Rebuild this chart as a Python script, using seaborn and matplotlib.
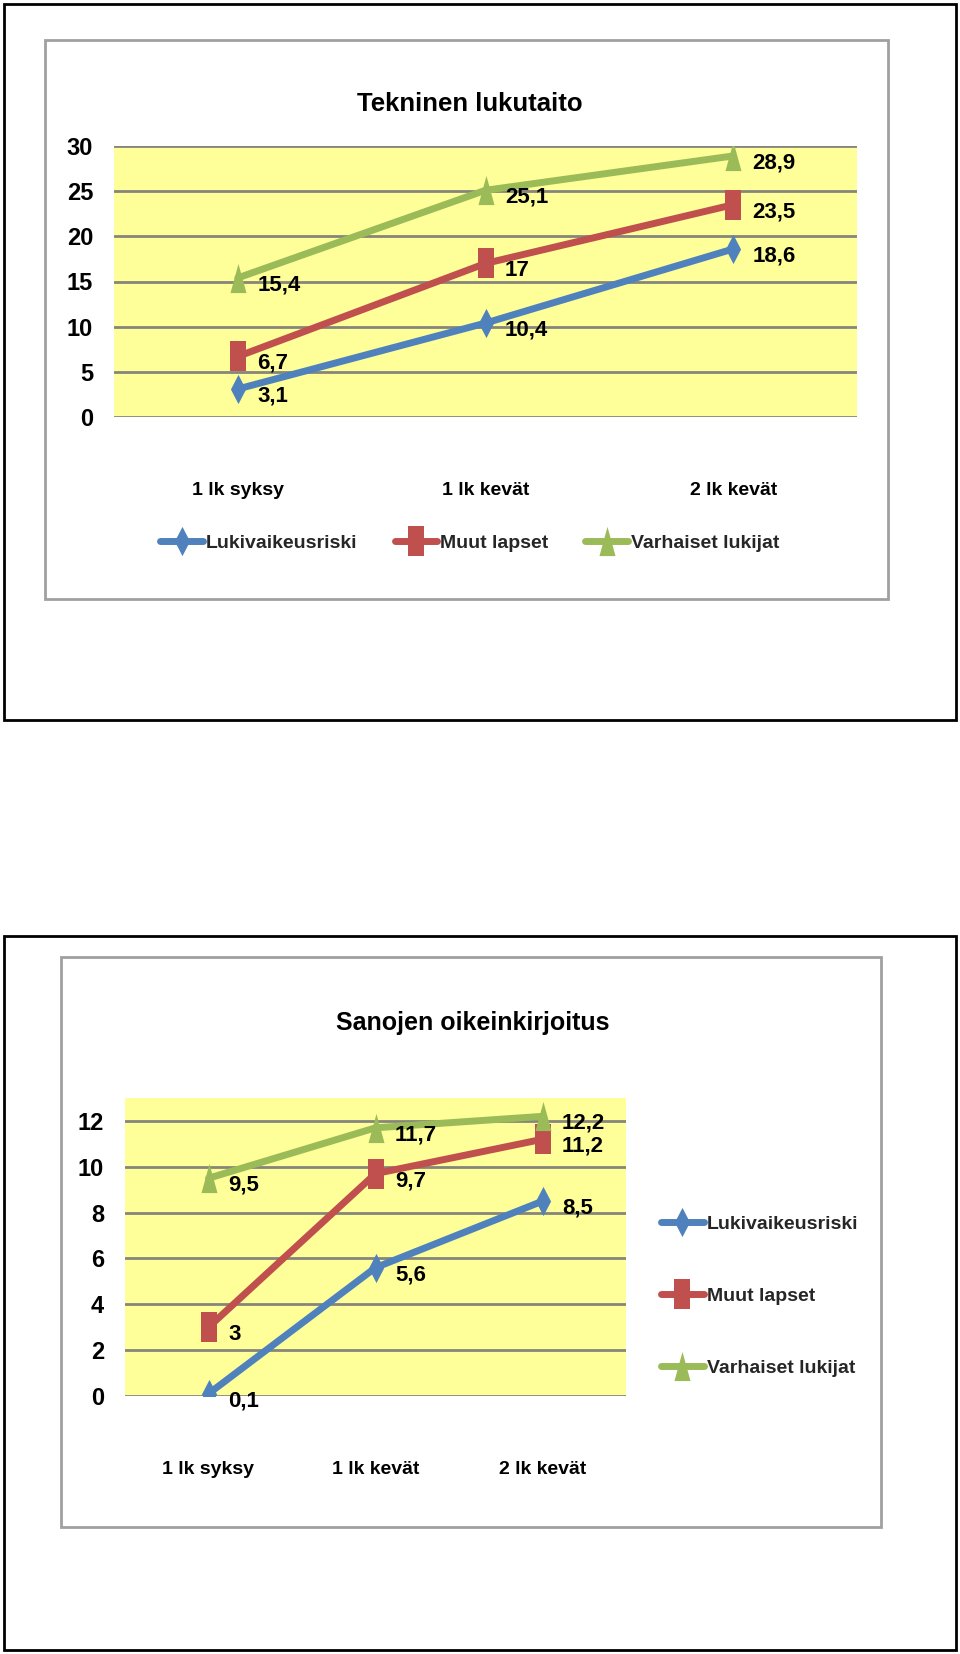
import numpy as np
import pandas as pd
import matplotlib
matplotlib.use("Agg")
import matplotlib.pyplot as plt
import seaborn as sns
from matplotlib import font_manager
from matplotlib.lines import Line2D
from matplotlib.patches import Rectangle

# ---------------- data ----------------
categories = ["1 lk syksy", "1 lk kevät", "2 lk kevät"]
series_names = ["Lukivaikeusriski", "Muut lapset", "Varhaiset lukijat"]

tekninen_riski = [3.1, 10.4, 18.6]
tekninen_muut = [6.7, 17.0, 23.5]
tekninen_varhaiset = [15.4, 25.1, 28.9]

sanat_riski = [0.1, 5.6, 8.5]
sanat_muut = [3.0, 9.7, 11.2]
sanat_varhaiset = [9.5, 11.7, 12.2]

title_top = "Tekninen lukutaito"
title_bottom = "Sanojen oikeinkirjoitus"
yticks_top = [0, 5, 10, 15, 20, 25, 30]
yticks_bottom = [0, 2, 4, 6, 8, 10, 12]

# ---------------- style ----------------
sns.set_theme(style="white")
fam = "DejaVu Sans"
for cand in ["Liberation Sans Narrow", "Liberation Sans", "Arial"]:
    try:
        font_manager.findfont(cand, fallback_to_default=False)
        fam = cand
        break
    except Exception:
        pass
plt.rcParams["font.family"] = [fam, "DejaVu Sans"]
plt.rcParams["font.weight"] = "bold"

colors = ["#4F81BD", "#C0504D", "#9BBB59"]
mk_diamond = [(0, 1), (0.52, 0), (0, -1), (-0.52, 0)]
mk_square = [(-0.58, -1), (0.58, -1), (0.58, 1), (-0.58, 1)]
mk_tri = [(-0.55, -1), (0.55, -1), (0, 1)]
markers = [mk_diamond, mk_square, mk_tri]
YELLOW = "#FFFF99"
GRID = "#85857C"

W, H = 960, 1654
fig = plt.figure(figsize=(W / 100, H / 100), dpi=100)
fig.patch.set_facecolor("white")


def px_rect(x0, y0, x1, y1, ec, lw):
    fig.patches.append(Rectangle((x0 / W, 1 - y1 / H), (x1 - x0) / W, (y1 - y0) / H,
                                 transform=fig.transFigure, fill=False,
                                 edgecolor=ec, linewidth=lw))


def px_axes(x0, y0, x1, y1):
    return fig.add_axes([x0 / W, 1 - y1 / H, (x1 - x0) / W, (y1 - y0) / H])


def draw_chart(ax, values, ylim, yticks, label_fs):
    ax.set_facecolor(YELLOW)
    for sp in ax.spines.values():
        sp.set_visible(False)
    for t in yticks:
        ax.axhline(t, color=GRID, lw=2.0, zorder=1)
    x = np.arange(len(categories))
    for i, (name, vals) in enumerate(zip(series_names, values)):
        df = pd.DataFrame({"x": x, "y": vals})
        sns.lineplot(data=df, x="x", y="y", ax=ax, color=colors[i], linewidth=5.0,
                     marker=markers[i], markersize=21, markeredgewidth=0,
                     zorder=3 + i, legend=False)
        for xi, v in zip(x, vals):
            lbl = ("%g" % v).replace(".", ",")
            ax.annotate(lbl, (xi, v), xytext=(14, -5), textcoords="offset points",
                        ha="left", va="center", fontsize=label_fs,
                        fontweight="bold", color="black", zorder=10,
                        annotation_clip=False)
    ax.set_xlim(-0.5, len(categories) - 0.5)
    ax.set_ylim(*ylim)
    ax.set_yticks(yticks)
    ax.set_yticklabels([str(t) for t in yticks], fontsize=17, fontweight="bold")
    ax.set_xticks(x)
    ax.set_xticklabels(categories, fontsize=14, fontweight="bold")
    ax.tick_params(axis="y", length=0, pad=15, colors="black")
    ax.tick_params(axis="x", length=0, pad=47, colors="black")
    ax.set_xlabel("")
    ax.set_ylabel("")
    ax.grid(False)


def legend_handles():
    return [Line2D([0], [0], color=colors[i], lw=5.0, marker=markers[i],
                   markersize=21, markeredgewidth=0) for i in range(3)]


# ---------------- top chart ----------------
px_rect(4, 4, 956, 720, "black", 2.0)
px_rect(45, 40, 888, 599, "#A0A0A0", 2.0)
ax1 = px_axes(114, 146, 857, 417)
draw_chart(ax1, [tekninen_riski, tekninen_muut, tekninen_varhaiset], (0, 30), yticks_top, 16)
fig.text(470 / W, 1 - 104 / H, title_top, ha="center", va="center",
         fontsize=18.5, fontweight="bold", color="black")
fig.legend(legend_handles(), series_names, loc="center",
           bbox_to_anchor=(470 / W, 1 - 543 / H), ncol=3, frameon=False,
           prop={"size": 14, "weight": "bold"}, handlelength=2.2,
           handletextpad=0.15, columnspacing=1.9, borderpad=0)

# ---------------- bottom chart ----------------
px_rect(4, 936, 956, 1650, "black", 2.0)
px_rect(61, 957, 881, 1527, "#A0A0A0", 2.0)
ax2 = px_axes(125, 1098, 626, 1396)
draw_chart(ax2, [sanat_riski, sanat_muut, sanat_varhaiset], (0, 13), yticks_bottom, 16)
fig.text(473 / W, 1 - 1023 / H, title_bottom, ha="center", va="center",
         fontsize=18, fontweight="bold", color="black")
fig.legend(legend_handles(), series_names, loc="center left",
           bbox_to_anchor=(661 / W, 1 - 1296 / H), ncol=1, frameon=False,
           prop={"size": 14, "weight": "bold"}, handlelength=2.2,
           handletextpad=0.15, labelspacing=2.8, borderpad=0, borderaxespad=0)

fig.savefig("out.png", dpi=100, facecolor="white")
